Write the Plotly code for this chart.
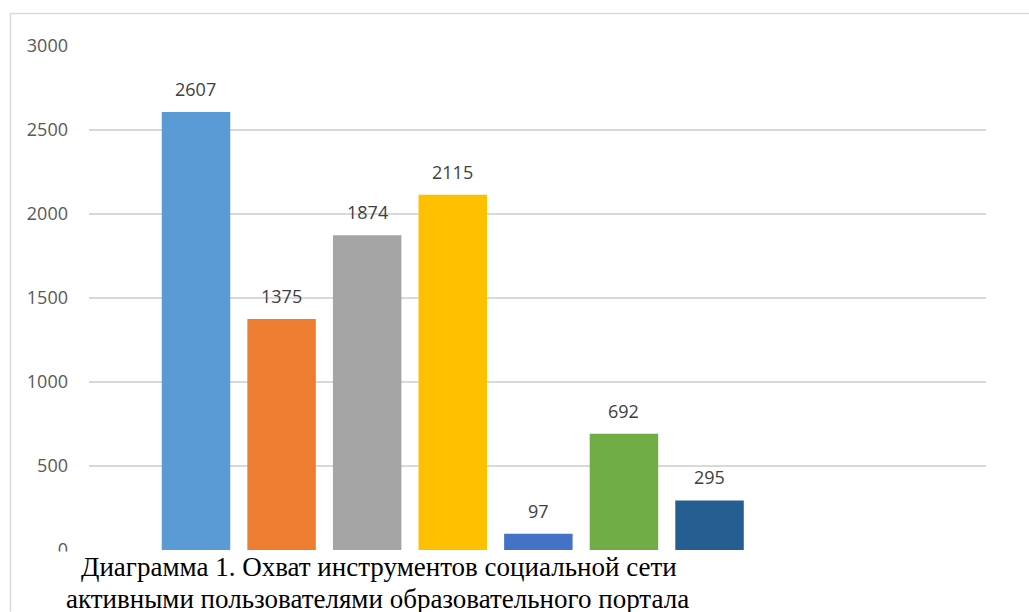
import plotly.graph_objects as go

categories = ["1", "2", "3", "4", "5", "6", "7"]
values = [2607, 1375, 1874, 2115, 97, 692, 295]
colors = ["#5B9BD5", "#ED7D31", "#A5A5A5", "#FFC000", "#4472C4", "#70AD47", "#255E91"]
y_ticks = [0, 500, 1000, 1500, 2000, 2500, 3000]
caption_lines = [
    "Диаграмма 1. Охват инструментов социальной сети",
    "активными пользователями образовательного портала",
]

W, H = 1029, 612
L, R = 89, 986
T, B = 46, 550.5


def px_x(p):
    return (p - L) / (R - L)


def px_y(p):
    return (B - p) / (B - T)


fig = go.Figure()
fig.add_trace(go.Bar(
    x=categories, y=values, marker=dict(color=colors, line=dict(width=0)),
    width=0.8, hoverinfo="skip",
))

for i, v in enumerate(values):
    fig.add_annotation(x=i, y=v, text=str(v), showarrow=False, yanchor="middle",
                       yshift=23, font=dict(family="Open Sans", size=18, color="#404040"))

shapes = [
    # cover zero grid line beyond the axis end
    dict(type="rect", xref="paper", yref="paper", x0=px_x(757), x1=px_x(995),
         y0=px_y(553), y1=px_y(548), fillcolor="white", line=dict(width=0), layer="above"),
    # caption box
    dict(type="rect", xref="paper", yref="paper", x0=px_x(12), x1=px_x(1029),
         y0=px_y(612), y1=px_y(552), fillcolor="white", line=dict(width=0), layer="above"),
    # outer border top and left
    dict(type="line", xref="paper", yref="paper", x0=px_x(10), x1=px_x(1029),
         y0=px_y(13.5), y1=px_y(13.5), line=dict(color="#D9D9D9", width=1.5), layer="above"),
    dict(type="line", xref="paper", yref="paper", x0=px_x(10.5), x1=px_x(10.5),
         y0=px_y(13), y1=px_y(612), line=dict(color="#D9D9D9", width=1.5), layer="above"),
]

fig.add_annotation(xref="paper", yref="paper", x=px_x(79), y=px_y(568), xanchor="left",
                   yanchor="middle", text=caption_lines[0], showarrow=False,
                   font=dict(family="Liberation Serif", size=27, color="black"))
fig.add_annotation(xref="paper", yref="paper", x=px_x(64), y=px_y(600), xanchor="left",
                   yanchor="middle", text=caption_lines[1], showarrow=False,
                   font=dict(family="Liberation Serif", size=27, color="black"))

fig.update_layout(
    width=W, height=H,
    margin=dict(l=L, r=W - R, t=T, b=H - B),
    paper_bgcolor="white", plot_bgcolor="white",
    showlegend=False, shapes=shapes,
    xaxis=dict(type="category", range=[-1.25, 9.23], showticklabels=False, ticks="",
               showgrid=False, zeroline=False, showline=False, fixedrange=True),
    yaxis=dict(range=[0, 3000], tickvals=y_ticks, ticktext=[str(t) for t in y_ticks],
               showgrid=True, gridcolor="#D9D9D9", gridwidth=1.5, zeroline=False,
               showline=False, ticks="", ticklabelstandoff=20,
               tickfont=dict(family="Open Sans", size=18, color="#595959")),
)

fig.write_html("out.html", config={"displayModeBar": False},
               post_script="document.body.style.margin='0';document.body.style.overflow='hidden';")
